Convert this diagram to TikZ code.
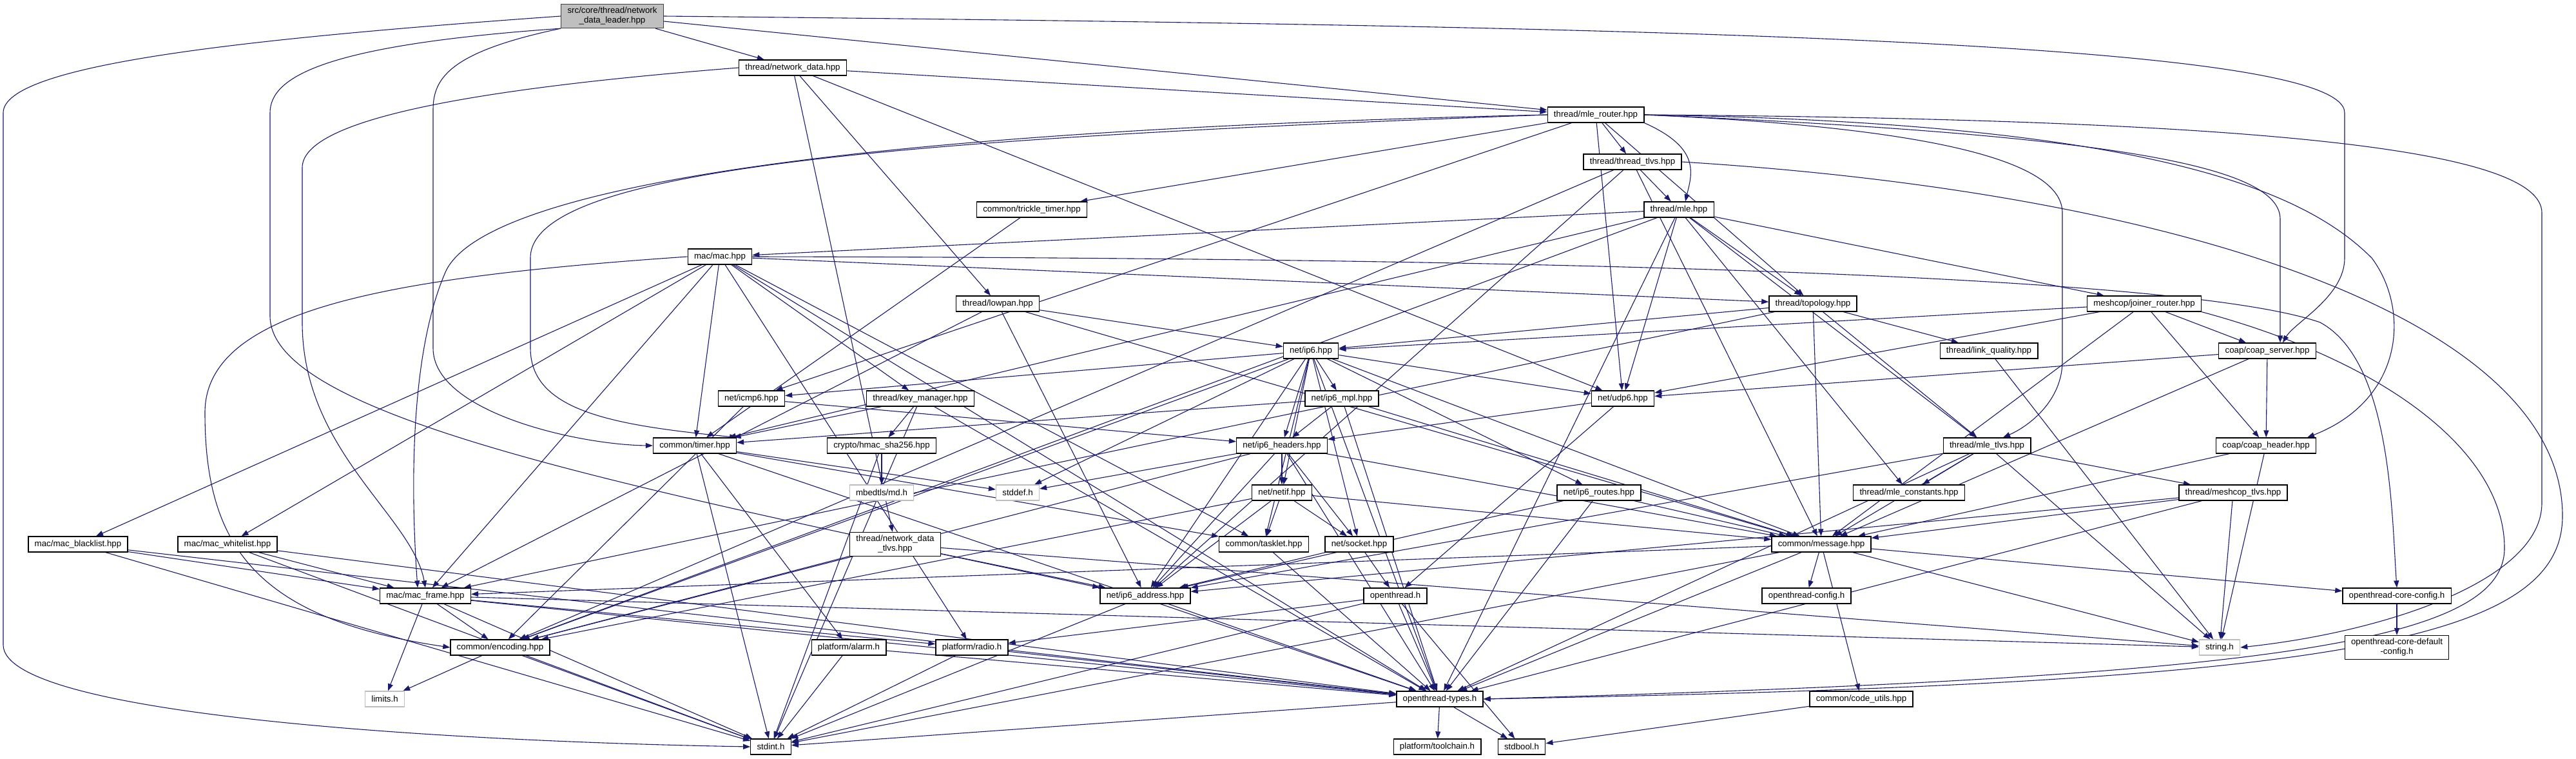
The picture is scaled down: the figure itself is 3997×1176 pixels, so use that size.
\documentclass[tikz,border=0pt]{standalone}
\usepackage{fontspec}
\setmainfont{Liberation Sans}
\usetikzlibrary{arrows.meta}
\definecolor{edgeblue}{HTML}{191970}
\definecolor{missgray}{HTML}{BFBFBF}
\pgfdeclarelayer{bg}
\pgfsetlayers{bg,main}
\tikzset{
  file/.style={draw=black, line width=1.3pt, fill=white, minimum height=24pt,
    inner xsep=9.8pt, inner ysep=0pt, align=center, font=\fontsize{13.3}{15}\selectfont},
  sysfile/.style={file, draw=missgray},
  rootfile/.style={file, fill=missgray, draw=black!75, minimum height=37pt},
  dep/.style={->, draw=edgeblue, line width=1.1pt}
}
\begin{document}
\begin{tikzpicture}[x=1pt, y=-1pt, >={Triangle[length=11pt,width=8pt]}]
\useasboundingbox (0,0) rectangle (3997,1176);
% files
\node[rootfile] (root) at (950,25) {src/core/thread/network\\\_data\_leader.hpp};
\node[file] (netData) at (1230,105) {thread/network\_data.hpp};
\node[file] (mleRouter) at (2476,178) {thread/mle\_router.hpp};
\node[file] (threadTlvs) at (2533,251) {thread/thread\_tlvs.hpp};
\node[file] (trickle) at (1601,325) {common/trickle\_timer.hpp};
\node[file] (mle) at (2605,325) {thread/mle.hpp};
\node[file] (mac) at (1117,398) {mac/mac.hpp};
\node[file] (lowpan) at (1548,471) {thread/lowpan.hpp};
\node[file] (topology) at (2813,471) {thread/topology.hpp};
\node[file] (joiner) at (3327,471) {meshcop/joiner\_router.hpp};
\node[file] (ip6) at (2034,544) {net/ip6.hpp};
\node[file] (linkQuality) at (3086,544) {thread/link\_quality.hpp};
\node[file] (coapServer) at (3518,544) {coap/coap\_server.hpp};
\node[file] (icmp6) at (1166,618) {net/icmp6.hpp};
\node[file] (keyMgr) at (1428,618) {thread/key\_manager.hpp};
\node[file] (ip6Mpl) at (2082,618) {net/ip6\_mpl.hpp};
\node[file] (udp6) at (2518,618) {net/udp6.hpp};
\node[file] (timer) at (1078,691) {common/timer.hpp};
\node[file] (hmac) at (1368,691) {crypto/hmac\_sha256.hpp};
\node[file] (ip6Headers) at (1989,691) {net/ip6\_headers.hpp};
\node[file] (mleTlvs) at (3083,691) {thread/mle\_tlvs.hpp};
\node[file] (coapHeader) at (3516,691) {coap/coap\_header.hpp};
\node[sysfile] (mdH) at (1368,764) {mbedtls/md.h};
\node[sysfile] (stddefH) at (1579,764) {stddef.h};
\node[file] (netif) at (1989,764) {net/netif.hpp};
\node[file] (ip6Routes) at (2481,764) {net/ip6\_routes.hpp};
\node[file] (mleConst) at (2962,764) {thread/mle\_constants.hpp};
\node[file] (meshcopTlvs) at (3465,764) {thread/meshcop\_tlvs.hpp};
\node[file] (blacklist) at (121,844) {mac/mac\_blacklist.hpp};
\node[file] (whitelist) at (353,844) {mac/mac\_whitelist.hpp};
\node[file, minimum height=37pt] (ndTlvs) at (1389,844) {thread/network\_data\\\_tlvs.hpp};
\node[file] (tasklet) at (1961,844) {common/tasklet.hpp};
\node[file] (socket) at (2109,844) {net/socket.hpp};
\node[file] (message) at (2826,844) {common/message.hpp};
\node[file] (macFrame) at (660,924) {mac/mac\_frame.hpp};
\node[file] (ip6Addr) at (1777,924) {net/ip6\_address.hpp};
\node[file] (otH) at (2165,924) {openthread.h};
\node[file] (otConfig) at (2803,924) {openthread-config.h};
\node[file] (coreConfig) at (3719,924) {openthread-core-config.h};
\node[file] (encoding) at (776,1004) {common/encoding.hpp};
\node[file] (alarm) at (1317,1004) {platform/alarm.h};
\node[file] (radio) at (1508,1004) {platform/radio.h};
\node[sysfile] (stringH) at (3444,1004) {string.h};
\node[file, minimum height=37pt] (coreDefault) at (3719,1004) {openthread-core-default\\-config.h};
\node[sysfile] (limitsH) at (597,1084) {limits.h};
\node[file] (otTypes) at (2234,1084) {openthread-types.h};
\node[file] (codeUtils) at (2888,1084) {common/code\_utils.hpp};
\node[file] (stdintH) at (1196,1158) {stdint.h};
\node[file] (toolchain) at (2230,1158) {platform/toolchain.h};
\node[file] (stdboolH) at (2361,1158) {stdbool.h};
% includes
\begin{pgfonlayer}{bg}
\foreach \s/\t in {root/netData, root/mleRouter,
  netData/mleRouter, netData/udp6, netData/lowpan, netData/ndTlvs,
  mleRouter/threadTlvs, mleRouter/trickle, mleRouter/icmp6, mleRouter/udp6, mleRouter/topology,
  threadTlvs/mle, threadTlvs/encoding, threadTlvs/ip6Addr, threadTlvs/message,
  mle/mac, mle/timer, mle/encoding, mle/udp6, mle/otTypes, mle/mleConst, mle/mleTlvs,
  mle/topology, mle/joiner, trickle/timer,
  mac/blacklist, mac/whitelist, mac/macFrame, mac/timer, mac/keyMgr, mac/topology,
  mac/tasklet, mac/radio, mac/otTypes,
  lowpan/ip6, lowpan/message, lowpan/ip6Addr, lowpan/macFrame,
  topology/ip6, topology/macFrame, topology/mleTlvs, topology/linkQuality, topology/message,
  joiner/ip6, joiner/udp6, joiner/coapServer, joiner/coapHeader, joiner/message,
  linkQuality/stringH, coapServer/udp6, coapServer/coapHeader, coapServer/message,
  coapHeader/message, coapHeader/stringH,
  ip6/icmp6, ip6/encoding, ip6/stddefH, ip6/netif, ip6/ip6Headers, ip6/ip6Mpl, ip6/udp6,
  ip6/ip6Routes, ip6/socket, ip6/message, ip6/ip6Addr, ip6/otTypes, ip6/tasklet,
  ip6Mpl/timer, ip6Mpl/ip6Headers, ip6Mpl/message, ip6Mpl/otTypes,
  icmp6/ip6Headers, icmp6/encoding, keyMgr/timer, keyMgr/hmac, keyMgr/stdintH, keyMgr/otTypes,
  hmac/mdH, hmac/stdintH, udp6/ip6Headers, udp6/otH,
  ip6Headers/stddefH, ip6Headers/netif, ip6Headers/encoding, ip6Headers/ip6Addr,
  ip6Headers/message, ip6Headers/socket, ip6Headers/otTypes,
  netif/tasklet, netif/socket, netif/ip6Addr, netif/message, netif/encoding,
  socket/otH, socket/ip6Addr, tasklet/otTypes,
  ip6Routes/message, ip6Routes/ip6Addr, ip6Routes/otTypes,
  ndTlvs/ip6Addr, ndTlvs/encoding, ndTlvs/stringH,
  ip6Addr/stdintH, ip6Addr/otTypes, alarm/stdintH, alarm/otTypes, radio/stdintH, radio/otTypes,
  mleTlvs/mleConst, mleTlvs/message, mleTlvs/meshcopTlvs, mleTlvs/otTypes, mleTlvs/stringH, mleTlvs/ip6Addr,
  meshcopTlvs/message, meshcopTlvs/stringH, meshcopTlvs/otTypes, meshcopTlvs/ip6Addr,
  message/otConfig, message/codeUtils, message/otTypes, message/stdintH, message/stringH,
  message/coreConfig, message/macFrame,
  otH/otTypes, otH/stdboolH, otH/stdintH, otH/radio,
  otTypes/toolchain, otTypes/stdboolH, otTypes/stdintH, codeUtils/stdboolH, coreConfig/coreDefault,
  macFrame/encoding, macFrame/limitsH, macFrame/stdintH, macFrame/otTypes, macFrame/stringH, macFrame/radio,
  encoding/limitsH, encoding/stdintH,
  timer/stdintH, timer/stddefH, timer/otTypes, timer/tasklet, timer/alarm,
  blacklist/macFrame, blacklist/stdintH, blacklist/otTypes,
  whitelist/macFrame, whitelist/stdintH, whitelist/otTypes}
  \draw[dep] (\s) -- (\t);
% long routed ones
\draw[dep] (root.west) .. controls (380,60) and (5,100) .. (5,175) -- (5,1000)
  .. controls (5,1110) and (700,1150) .. (stdintH.west);
\draw[dep] (root.east) .. controls (2500,40) and (3638,60) .. (3638,175) -- (3638,400)
  .. controls (3638,460) and (3560,500) .. ([xshift=24pt]coapServer.north);
\draw[dep] (root.south west) .. controls (700,80) and (672,120) .. (672,170) -- (672,540)
  .. controls (672,640) and (900,690) .. (timer.west);
\draw[dep] (root.south west) .. controls (500,70) and (419,120) .. (419,175) -- (419,490)
  .. controls (419,650) and (1000,760) .. (ip6Addr.north west);
\draw[dep] (netData.west) .. controls (700,140) and (469,190) .. (469,260) -- (469,500)
  .. controls (469,700) and (640,800) .. (macFrame.north);
\draw[dep] (mleRouter.west) .. controls (1400,200) and (760,280) .. (692,420)
  .. controls (630,560) and (640,800) .. ([xshift=-12pt]macFrame.north);
\draw[dep] (mleRouter.west) .. controls (1400,215) and (823,260) .. (823,400) -- (823,540)
  .. controls (823,640) and (960,660) .. (timer.north east);
\draw[dep] (mleRouter.south east) .. controls (2640,230) and (2625,270) .. ([xshift=10pt]mle.north);
\draw[dep] (mleRouter.east) .. controls (3050,200) and (3200,260) .. (3200,330) -- (3200,560)
  .. controls (3200,620) and (3150,660) .. ([xshift=25pt]mleTlvs.north);
\draw[dep] (mleRouter.east) .. controls (3300,210) and (3538,260) .. (3538,340) -- ([xshift=20pt]coapServer.north);
\draw[dep] (mleRouter.east) .. controls (3350,190) and (3580,300) .. (3680,400)
  .. controls (3740,480) and (3730,620) .. ([xshift=64pt]coapHeader.north);
\draw[dep] (mleRouter.east) .. controls (3500,185) and (3944,230) .. (3944,330) -- (3944,780)
  .. controls (3944,900) and (3700,980) .. (stringH.east);
\draw[dep] (threadTlvs.east) .. controls (3400,300) and (3976,500) .. (3976,800)
  .. controls (3976,1000) and (3600,1060) .. (otTypes.east);
\draw[dep] (joiner.south east) .. controls (3700,560) and (3886,700) .. (3886,850)
  .. controls (3886,1000) and (3500,1050) .. (otTypes.east);
\draw[dep] (mac.west) .. controls (600,430) and (318,480) .. (318,640)
  .. controls (318,850) and (400,960) .. (encoding.west);
\draw[dep] (mac.east) .. controls (2500,400) and (3400,430) .. (3600,500)
  .. controls (3711,560) and (3711,800) .. (coreConfig.north);
\end{pgfonlayer}
\end{tikzpicture}
\end{document}
